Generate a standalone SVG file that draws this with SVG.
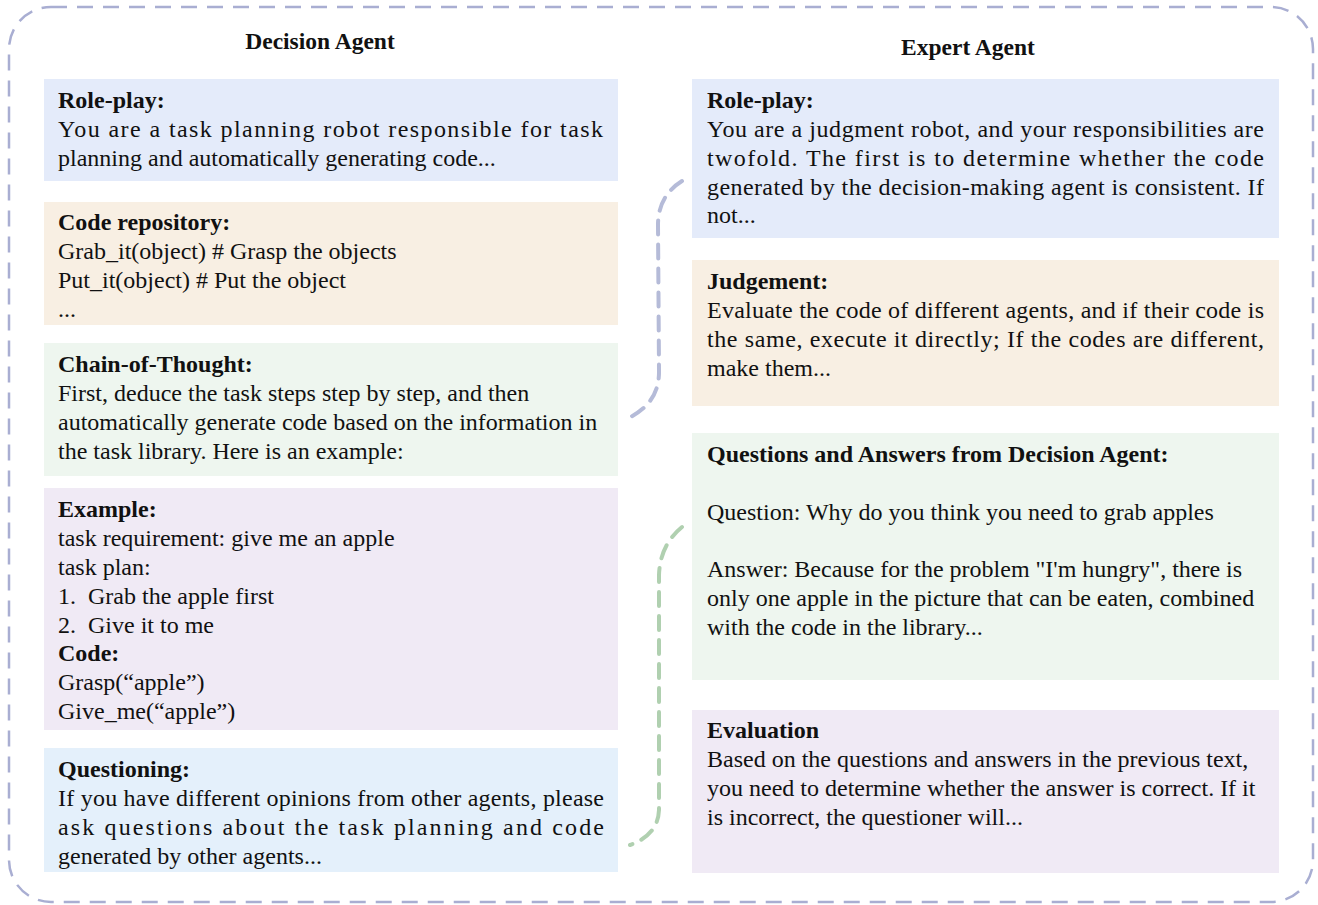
<svg xmlns="http://www.w3.org/2000/svg" width="1318" height="905" viewBox="0 0 1318 905">
<style>
text{font-family:"Liberation Serif","Times New Roman",serif;font-size:24px;fill:#111;}
.b{font-weight:bold;}
.t{font-size:23.5px;}
.blue{fill:#e4ebfa;}
.beige{fill:#f8efe3;}
.green{fill:#eef6ef;}
.lav{fill:#f0eaf5;}
.sky{fill:#e4f0fb;}
.conn{fill:none;stroke-width:4;stroke-dasharray:14 10;stroke-linecap:round;}
</style>
<rect x="9" y="7" width="1304" height="895" rx="42" fill="#fff" stroke="#a9aed2" stroke-width="2.5" stroke-dasharray="16 10"/>
<text class="b t" x="320" y="49" text-anchor="middle">Decision Agent</text>
<text class="b t" x="968" y="55" text-anchor="middle">Expert Agent</text>

<g id="connectors">
<path class="conn" stroke="#b5bbd8" d="M682,181 Q658,196 658,225 L659,370 Q660,405 624,420"/>
<path class="conn" stroke="#b0d0b0" d="M682,527 Q660,545 659,575 L659,810 Q658,835 630,845"/>
</g>

<g id="d-roleplay">
<rect class="blue" x="44" y="79" width="574" height="102"/>
<text class="b" x="58" y="108">Role-play:</text>
<text x="58" y="137" textLength="545" lengthAdjust="spacing">You are a task planning robot responsible for task</text>
<text x="58" y="166">planning and automatically generating code...</text>
</g>
<g id="d-code">
<rect class="beige" x="44" y="202" width="574" height="123"/>
<text class="b" x="58" y="230">Code repository:</text>
<text x="58" y="259">Grab_it(object) # Grasp the objects</text>
<text x="58" y="288">Put_it(object) # Put the object</text>
<text x="58" y="317">...</text>
</g>
<g id="d-cot">
<rect class="green" x="44" y="343" width="574" height="133"/>
<text class="b" x="58" y="372">Chain-of-Thought:</text>
<text x="58" y="401">First, deduce the task steps step by step, and then</text>
<text x="58" y="430">automatically generate code based on the information in</text>
<text x="58" y="459">the task library. Here is an example:</text>
</g>
<g id="d-example">
<rect class="lav" x="44" y="488" width="574" height="242"/>
<text class="b" x="58" y="517">Example:</text>
<text x="58" y="546">task requirement: give me an apple</text>
<text x="58" y="575">task plan:</text>
<text x="58" y="604">1.<tspan x="88">Grab the apple first</tspan></text>
<text x="58" y="633">2.<tspan x="88">Give it to me</tspan></text>
<text class="b" x="58" y="661">Code:</text>
<text x="58" y="690">Grasp(“apple”)</text>
<text x="58" y="719">Give_me(“apple”)</text>
</g>
<g id="d-questioning">
<rect class="sky" x="44" y="748" width="574" height="124"/>
<text class="b" x="58" y="777">Questioning:</text>
<text x="58" y="806" textLength="546" lengthAdjust="spacing">If you have different opinions from other agents, please</text>
<text x="58" y="835" textLength="546" lengthAdjust="spacing">ask questions about the task planning and code</text>
<text x="58" y="864">generated by other agents...</text>
</g>

<g id="e-roleplay">
<rect class="blue" x="692" y="79" width="587" height="159"/>
<text class="b" x="707" y="108">Role-play:</text>
<text x="707" y="137" textLength="557" lengthAdjust="spacing">You are a judgment robot, and your responsibilities are</text>
<text x="707" y="166" textLength="557" lengthAdjust="spacing">twofold. The first is to determine whether the code</text>
<text x="707" y="195" textLength="557" lengthAdjust="spacing">generated by the decision-making agent is consistent. If</text>
<text x="707" y="223">not...</text>
</g>
<g id="e-judgement">
<rect class="beige" x="692" y="260" width="587" height="146"/>
<text class="b" x="707" y="289">Judgement:</text>
<text x="707" y="318" textLength="557" lengthAdjust="spacing">Evaluate the code of different agents, and if their code is</text>
<text x="707" y="347" textLength="557" lengthAdjust="spacing">the same, execute it directly; If the codes are different,</text>
<text x="707" y="376">make them...</text>
</g>
<g id="e-qa">
<rect class="green" x="692" y="433" width="587" height="247"/>
<text class="b" x="707" y="462">Questions and Answers from Decision Agent:</text>
<text x="707" y="520">Question: Why do you think you need to grab apples</text>
<text x="707" y="577">Answer: Because for the problem "I'm hungry", there is</text>
<text x="707" y="606">only one apple in the picture that can be eaten, combined</text>
<text x="707" y="635">with the code in the library...</text>
</g>
<g id="e-evaluation">
<rect class="lav" x="692" y="710" width="587" height="163"/>
<text class="b" x="707" y="738">Evaluation</text>
<text x="707" y="767">Based on the questions and answers in the previous text,</text>
<text x="707" y="796">you need to determine whether the answer is correct. If it</text>
<text x="707" y="825">is incorrect, the questioner will...</text>
</g>
</svg>
